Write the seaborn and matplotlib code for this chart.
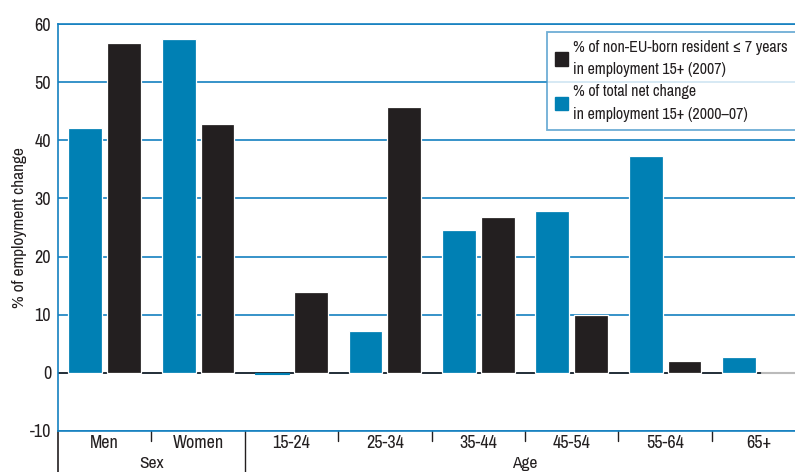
import matplotlib
matplotlib.use('Agg')
import matplotlib.pyplot as plt
from matplotlib import font_manager
import seaborn as sns
import pandas as pd
from matplotlib.patches import Patch
from matplotlib.lines import Line2D
from matplotlib.transforms import blended_transform_factory

# ---- data ----
categories = ['Men', 'Women', '15-24', '25-34', '35-44', '45-54', '55-64', '65+']
group_names = ['Sex', 'Age']
group_first = [0, 2]
group_last = [1, 7]
total_change = [42.2, 57.5, -0.3, 7.1, 24.6, 27.9, 37.4, 2.7]
non_eu = [56.8, 42.9, 13.8, 45.8, 26.8, 9.9, 1.9, 0.1]
series_total = '% of total net change\nin employment 15+ (2000\u201307)'
series_noneu = '% of non-EU-born resident \u2264 7 years\nin employment 15+ (2007)'
yticks = [-10, 0, 10, 20, 30, 40, 50, 60]
ylabel = '% of employment change'

BLUE = '#0080B4'
DARK = '#231F20'
GRID = '#1480C0'

df = pd.DataFrame({
    'category': categories * 2,
    'value': total_change + non_eu,
    'series': [series_total] * len(categories) + [series_noneu] * len(categories),
})

sns.set_style('white')

# pick a narrow font if one is installed
narrow = None
stretch = 'normal'
for f in font_manager.fontManager.ttflist:
    n = f.name
    if 'Narrow' in n or 'Condensed' in n:
        narrow = n
        break
if narrow is None:
    for f in font_manager.fontManager.ttflist:
        if f.name == 'DejaVu Sans' and str(f.stretch) in ('condensed', 'semi-condensed', '600', '500'):
            narrow = 'DejaVu Sans'
            stretch = 'condensed'
            break
if narrow is None:
    narrow = 'DejaVu Sans'
plt.rcParams['font.family'] = [narrow, 'DejaVu Sans']
plt.rcParams['font.stretch'] = stretch
plt.rcParams['text.color'] = DARK
cond = narrow != 'DejaVu Sans' or stretch == 'condensed'
fs = 13 if cond else 10.5
lfs = 11.5 if cond else 9.2

fig = plt.figure(figsize=(7.95, 4.72), dpi=100)
W, H = 795, 472
left_px, top_px, bottom_px = 58, 24.5, 430.5
cat_w = 93.4
ax = fig.add_axes([left_px / W, (H - bottom_px) / H,
                   8 * cat_w / W, (bottom_px - top_px) / H])

sns.barplot(data=df, x='category', y='value', hue='series',
            hue_order=[series_total, series_noneu], order=categories,
            palette=[BLUE, DARK], saturation=1, width=0.83, gap=0.13,
            edgecolor='white', linewidth=0.9, legend=False, ax=ax, zorder=2)
for p in ax.patches:
    if abs(p.get_height()) < 1:
        if p.get_facecolor()[2] > 0.5:
            p.set_edgecolor(BLUE)
        else:
            p.set_edgecolor('#BBBBBB')
        p.set_linewidth(0.8)

ax.set_xlim(-0.5, 7.5)
ax.set_ylim(-10, 60)
ax.set_yticks(yticks)
ax.set_yticklabels([str(v) for v in yticks])
ax.yaxis.grid(True, color=GRID, linewidth=1.2)
ax.xaxis.grid(False)
ax.set_axisbelow(True)
ax.axhline(0, color=DARK, linewidth=1.2, zorder=1)

for s in ['top', 'left', 'bottom']:
    ax.spines[s].set_color(GRID)
    ax.spines[s].set_linewidth(1.2)
ax.spines['right'].set_visible(False)

ax.tick_params(axis='y', length=0, pad=5, labelsize=fs, labelcolor=DARK)
ax.tick_params(axis='x', length=0, pad=3, labelsize=fs, labelcolor=DARK)
ax.set_xlabel('')
ax.set_ylabel(ylabel, fontsize=fs - 0.5, color=DARK)
ax.yaxis.set_label_coords((20 - left_px) / (8 * cat_w), 0.5)
ax.yaxis.label.set_va('center')

# category table below the axis
trans = blended_transform_factory(ax.transData, ax.transAxes)
ax_h = bottom_px - top_px
depth = -(H - bottom_px + 2) / ax_h
tick_depth = -10 / ax_h
ax.add_line(Line2D([-0.5, -0.5], [0, depth], transform=trans, color=DARK,
                   lw=1.2, clip_on=False))
bounds = [i + 0.5 for i in range(len(categories) - 1)]
group_bounds = [g + 0.5 for g in group_last[:-1]]
for b in bounds:
    y1 = depth if b in group_bounds else tick_depth
    ax.add_line(Line2D([b, b], [0, y1], transform=trans, color=DARK,
                       lw=1.0, clip_on=False))
for name, a, b in zip(group_names, group_first, group_last):
    ax.text((a + b) / 2, -(468 - bottom_px) / ax_h, name, transform=trans,
            ha='center', va='baseline', fontsize=fs - 0.5, color=DARK, clip_on=False)

# legend
handles = [Patch(facecolor=DARK, edgecolor=DARK),
           Patch(facecolor=BLUE, edgecolor=BLUE)]
leg = fig.legend(handles, [series_noneu, series_total],
                 loc='upper left', bbox_to_anchor=(547 / W, 1 - 32 / H),
                 frameon=True, fancybox=False, fontsize=lfs,
                 handlelength=0.8, handleheight=0.95, handletextpad=0.35,
                 borderpad=0.5, labelspacing=0.45, borderaxespad=0)
leg.get_frame().set_edgecolor('#4A9ACB')
leg.get_frame().set_linewidth(1.3)
for t in leg.get_texts():
    t.set_linespacing(1.6)

fig.savefig('out.png', dpi=100)
